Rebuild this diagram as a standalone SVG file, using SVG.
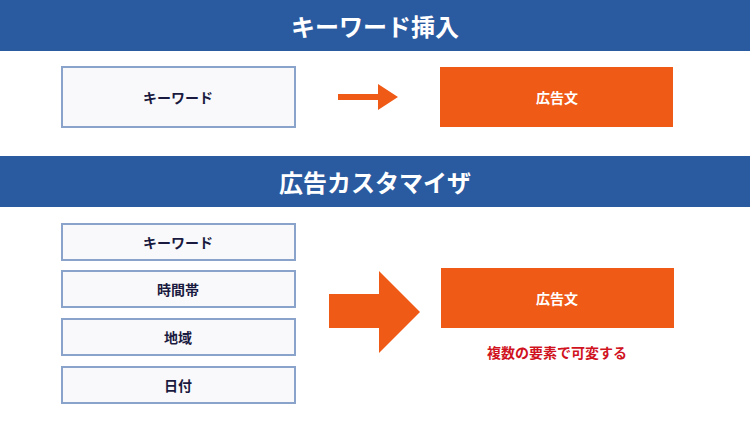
<svg xmlns="http://www.w3.org/2000/svg" width="750" height="433" viewBox="0 0 750 433">
<style>
.hdr{fill:#2a5aa0}
.htxt{fill:#fff;font-family:"Noto Sans CJK JP",sans-serif;font-size:24px;font-weight:bold;text-anchor:middle;dominant-baseline:central}
.box{fill:#f9f9fb;stroke:#8aa3cb;stroke-width:2}
.btxt{fill:#1a1a40;font-family:"Noto Sans CJK JP",sans-serif;font-size:14px;font-weight:bold;text-anchor:middle;dominant-baseline:central}
.obox{fill:#f05a17}
.otxt{fill:#fff;font-family:"Noto Sans CJK JP",sans-serif;font-size:14px;font-weight:bold;text-anchor:middle;dominant-baseline:central}
.arrow{fill:#f05a17}
.note{fill:#d0131e;font-family:"Noto Sans CJK JP",sans-serif;font-size:14px;font-weight:bold;text-anchor:middle;dominant-baseline:central}
</style>
<rect width="750" height="433" fill="#fff"/>
<g id="header1"><rect class="hdr" x="0" y="0" width="750" height="51"/><text class="htxt" x="375" y="25">キーワード挿入</text></g>
<g id="kw1"><rect class="box" x="62" y="67" width="233" height="60"/><text class="btxt" x="178" y="97">キーワード</text></g>
<g id="ad1"><rect class="obox" x="440" y="67" width="233" height="60"/><text class="otxt" x="557" y="97">広告文</text></g>
<g id="header2"><rect class="hdr" x="0" y="156" width="750" height="51"/><text class="htxt" x="375" y="181">広告カスタマイザ</text></g>
<g id="kw2"><rect class="box" x="62" y="224" width="233" height="36"/><text class="btxt" x="178" y="242">キーワード</text></g>
<g id="time"><rect class="box" x="62" y="271" width="233" height="36"/><text class="btxt" x="178" y="289">時間帯</text></g>
<g id="region"><rect class="box" x="62" y="319" width="233" height="36"/><text class="btxt" x="178" y="337">地域</text></g>
<g id="date"><rect class="box" x="62" y="367" width="233" height="36"/><text class="btxt" x="178" y="385">日付</text></g>
<g id="ad2"><rect class="obox" x="441" y="268" width="233" height="60"/><text class="otxt" x="557" y="298">広告文</text></g>
<g id="note"><text class="note" x="557" y="352">複数の要素で可変する</text></g>
<g id="connectors">
<polygon class="arrow" points="338,94 378,94 378,84 398,97 378,110 378,100 338,100"/>
<polygon class="arrow" points="329,294 379,294 379,271 420,312 379,353 379,328 329,328"/>
</g>
</svg>
